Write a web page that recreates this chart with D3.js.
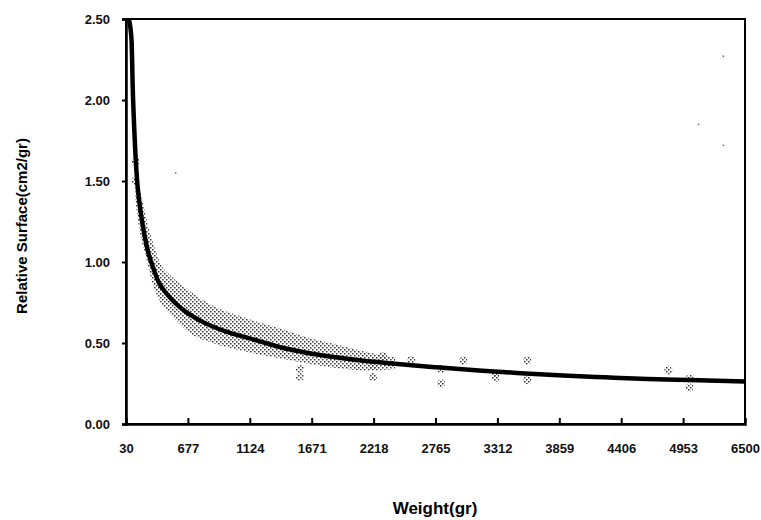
<!DOCTYPE html>
<html>
<head>
<meta charset="utf-8">
<title>Relative surface vs weight</title>
<script src="https://d3js.org/d3.v7.min.js"></script>
<style>
  body { margin: 0; background: #fff; }
  svg { display: block; }
  .tick text { font-family: Arial, "Liberation Sans", sans-serif; font-weight: bold; font-size: 13px; fill: #111; }
</style>
</head>
<body>
<svg></svg>
<script>
// tick labels of the x axis (category-like axis, labels equally spaced)
var xTicks = [30, 677, 1124, 1671, 2218, 2765, 3312, 3859, 4406, 4953, 6500];
var yTicks = [0, 0.5, 1.0, 1.5, 2.0, 2.5];

// fitted curve
var curveW = [60, 88, 100, 118, 145, 175, 219, 263, 307, 373, 462, 637, 772, 954, 1139, 1362, 1660, 2033, 2405, 2776, 3148, 3520, 3892, 4265, 4637, 5111, 6500];
var curveV = [2.50, 2.37, 2.085, 1.80, 1.51, 1.346, 1.18, 1.058, 0.976, 0.873, 0.80, 0.70, 0.635, 0.57, 0.525, 0.48, 0.435, 0.398, 0.372, 0.350, 0.330, 0.314, 0.299, 0.288, 0.278, 0.271, 0.262];

// dense cloud of measured points: upper and lower envelope
var cloudW  = [125, 150, 176, 230, 312, 400, 490, 692, 858, 1075, 1435, 1655, 1833, 2185, 2409];
var cloudHi = [1.65, 1.52, 1.45, 1.30, 1.12, 0.98, 0.92, 0.82, 0.73, 0.66, 0.58, 0.53, 0.50, 0.44, 0.41];
var cloudLo = [1.40, 1.28, 1.18, 1.05, 0.86, 0.74, 0.68, 0.56, 0.50, 0.45, 0.40, 0.37, 0.35, 0.33, 0.34];

// scattered points outside the cloud
var ptW = [1567, 1567, 2213, 2213, 2300, 2552, 2814, 2814, 3011, 3296, 3296, 3575, 3575, 4822, 5111, 5111, 128, 128];
var ptV = [0.34, 0.29, 0.36, 0.29, 0.42, 0.395, 0.34, 0.25, 0.39, 0.31, 0.285, 0.39, 0.27, 0.33, 0.28, 0.225, 1.62, 1.50];

// faint stray dots
var strayW = [5959, 5959, 5340, 549];
var strayV = [2.27, 1.72, 1.85, 1.55];

var width = 761, height = 520;
var margin = { left: 126, right: 16, top: 19, bottom: 96 };
var w = width - margin.left - margin.right;
var h = height - margin.top - margin.bottom;

var svg = d3.select("svg").attr("width", width).attr("height", height);

var defs = svg.append("defs");
var pat = defs.append("pattern")
  .attr("id", "stipple")
  .attr("patternUnits", "userSpaceOnUse")
  .attr("width", 4).attr("height", 4);
pat.append("rect").attr("x", 0).attr("y", 0).attr("width", 1.5).attr("height", 1.5).attr("fill", "#333");
pat.append("rect").attr("x", 2).attr("y", 2).attr("width", 1.5).attr("height", 1.5).attr("fill", "#333");

var g = svg.append("g").attr("transform", "translate(" + margin.left + "," + margin.top + ")");

// piecewise scale: the ticks are equally spaced on the page
var x = d3.scaleLinear()
  .domain(xTicks)
  .range(xTicks.map(function (d, i) { return i * w / (xTicks.length - 1); }));
var y = d3.scaleLinear().domain([0, 2.5]).range([h, 0]);

// cloud
var cloud = cloudW.map(function (d, i) { return { w: d, hi: cloudHi[i], lo: cloudLo[i] }; });
g.append("path")
  .datum(cloud)
  .attr("fill", "url(#stipple)")
  .attr("d", d3.area()
    .x(function (d) { return x(d.w); })
    .y0(function (d) { return y(d.lo); })
    .y1(function (d) { return y(d.hi); })
    .curve(d3.curveMonotoneX));

// scattered points
g.selectAll(".pt")
  .data(ptW.map(function (d, i) { return { w: d, v: ptV[i] }; }))
  .enter().append("circle")
  .attr("class", "pt")
  .attr("cx", function (d) { return x(d.w); })
  .attr("cy", function (d) { return y(d.v); })
  .attr("r", 4)
  .attr("fill", "url(#stipple)");

g.selectAll(".stray")
  .data(strayW.map(function (d, i) { return { w: d, v: strayV[i] }; }))
  .enter().append("circle")
  .attr("class", "stray")
  .attr("cx", function (d) { return x(d.w); })
  .attr("cy", function (d) { return y(d.v); })
  .attr("r", 0.9)
  .attr("fill", "#777");

// fitted curve
var line = d3.line()
  .x(function (d) { return x(d.w); })
  .y(function (d) { return y(d.v); })
  .curve(d3.curveMonotoneX);
g.append("path")
  .datum(curveW.map(function (d, i) { return { w: d, v: curveV[i] }; }))
  .attr("fill", "none")
  .attr("stroke", "#000")
  .attr("stroke-width", 4.5)
  .attr("stroke-linejoin", "round")
  .attr("d", line);

// frame
g.append("rect")
  .attr("x", 0).attr("y", 0)
  .attr("width", w).attr("height", h)
  .attr("fill", "none")
  .attr("stroke", "#000")
  .attr("stroke-width", 2);

// axes
var xAxis = g.append("g")
  .attr("transform", "translate(0," + h + ")")
  .call(d3.axisBottom(x).tickValues(xTicks).tickFormat(d3.format("d")).tickSize(-6).tickPadding(20));
xAxis.select(".domain").attr("stroke-width", 2.5);
xAxis.selectAll(".tick line").attr("stroke-width", 2);
xAxis.selectAll(".tick").filter(function (d, i) { return i === 0 || i === xTicks.length - 1; }).select("line").remove();

var yAxis = g.append("g")
  .call(d3.axisLeft(y).tickValues(yTicks).tickFormat(d3.format(".2f")).tickSize(4).tickPadding(12));
yAxis.select(".domain").attr("stroke-width", 2.5);
yAxis.selectAll(".tick line").attr("stroke-width", 2);

// axis titles
svg.append("text")
  .attr("transform", "translate(27," + 226 + ") rotate(-90)")
  .attr("text-anchor", "middle")
  .style("font-family", "Arial, 'Liberation Sans', sans-serif")
  .style("font-weight", "bold")
  .style("font-size", "15px")
  .text("Relative Surface(cm2/gr)");

svg.append("text")
  .attr("x", 435)
  .attr("y", 514)
  .attr("text-anchor", "middle")
  .style("font-family", "Arial, 'Liberation Sans', sans-serif")
  .style("font-weight", "bold")
  .style("font-size", "17px")
  .text("Weight(gr)");
</script>
</body>
</html>
